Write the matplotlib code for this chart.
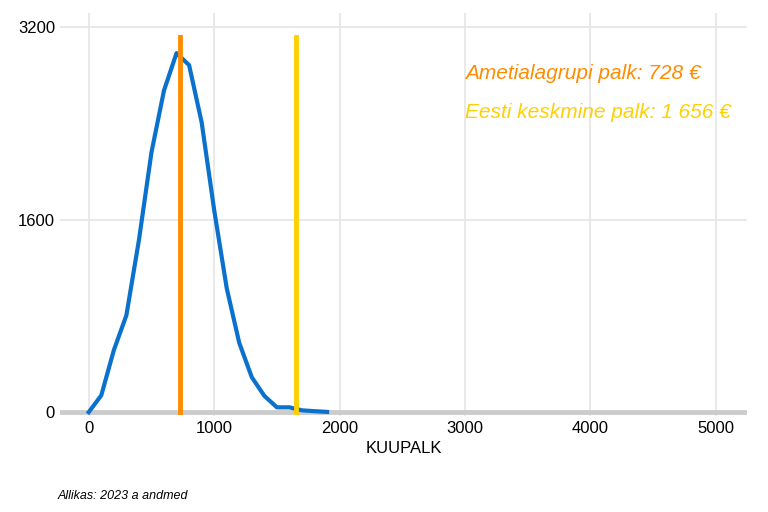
import matplotlib
matplotlib.use("Agg")
import matplotlib.pyplot as plt

x = [0,100,200,300,400,500,600,700,800,900,1000,1100,1200,1300,1400,1500,1600,1700,1800,1900]
y = [0,140,515,805,1430,2160,2675,2985,2885,2410,1680,1030,575,290,135,40,40,15,8,2]
group_pay = 728
avg_pay = 1656
line_top = 3117

fig = plt.figure(figsize=(7.68,5.12), dpi=100)
ax = fig.add_axes([0.078, 0.188, 0.895, 0.787])
for v in [0,1000,2000,3000,4000,5000]:
    ax.axvline(v, color="#e5e5e5", lw=1.2, zorder=0)
for v in [1600,3200]:
    ax.axhline(v, color="#e5e5e5", lw=1.2, zorder=0)
ax.axhline(0, color="#cccccc", lw=3.5, zorder=1)
ax.plot(x, y, color="#0a72cc", lw=3, zorder=3)
ax.plot([group_pay,group_pay],[0,line_top], color="#ff8c00", lw=3.5, zorder=4)
ax.plot([avg_pay,avg_pay],[0,line_top], color="#ffd000", lw=3.5, zorder=4)
ax.text(3000, 2815, "Ametialagrupi palk: 728 €", color="#ff8c00", fontsize=15, style="italic", family="Liberation Sans", va="center")
ax.text(3000, 2495, "Eesti keskmine palk: 1 656 €", color="#ffd000", fontsize=15, style="italic", family="Liberation Sans", va="center")
ax.set_xlim(-230, 5250)
ax.set_ylim(-30, 3320)
ax.set_xticks([0,1000,2000,3000,4000,5000])
ax.set_yticks([0,1600,3200])
ax.tick_params(length=0, labelsize=12)
for l in ax.get_xticklabels()+ax.get_yticklabels():
    l.set_family("Liberation Sans")
for s in ax.spines.values():
    s.set_visible(False)
ax.set_xlabel("KUUPALK", fontsize=12, family="Liberation Sans", labelpad=4)
fig.text(0.075, 0.025, "Allikas: 2023 a andmed", fontsize=9, style="italic", family="Liberation Sans")
fig.savefig("out.png")
